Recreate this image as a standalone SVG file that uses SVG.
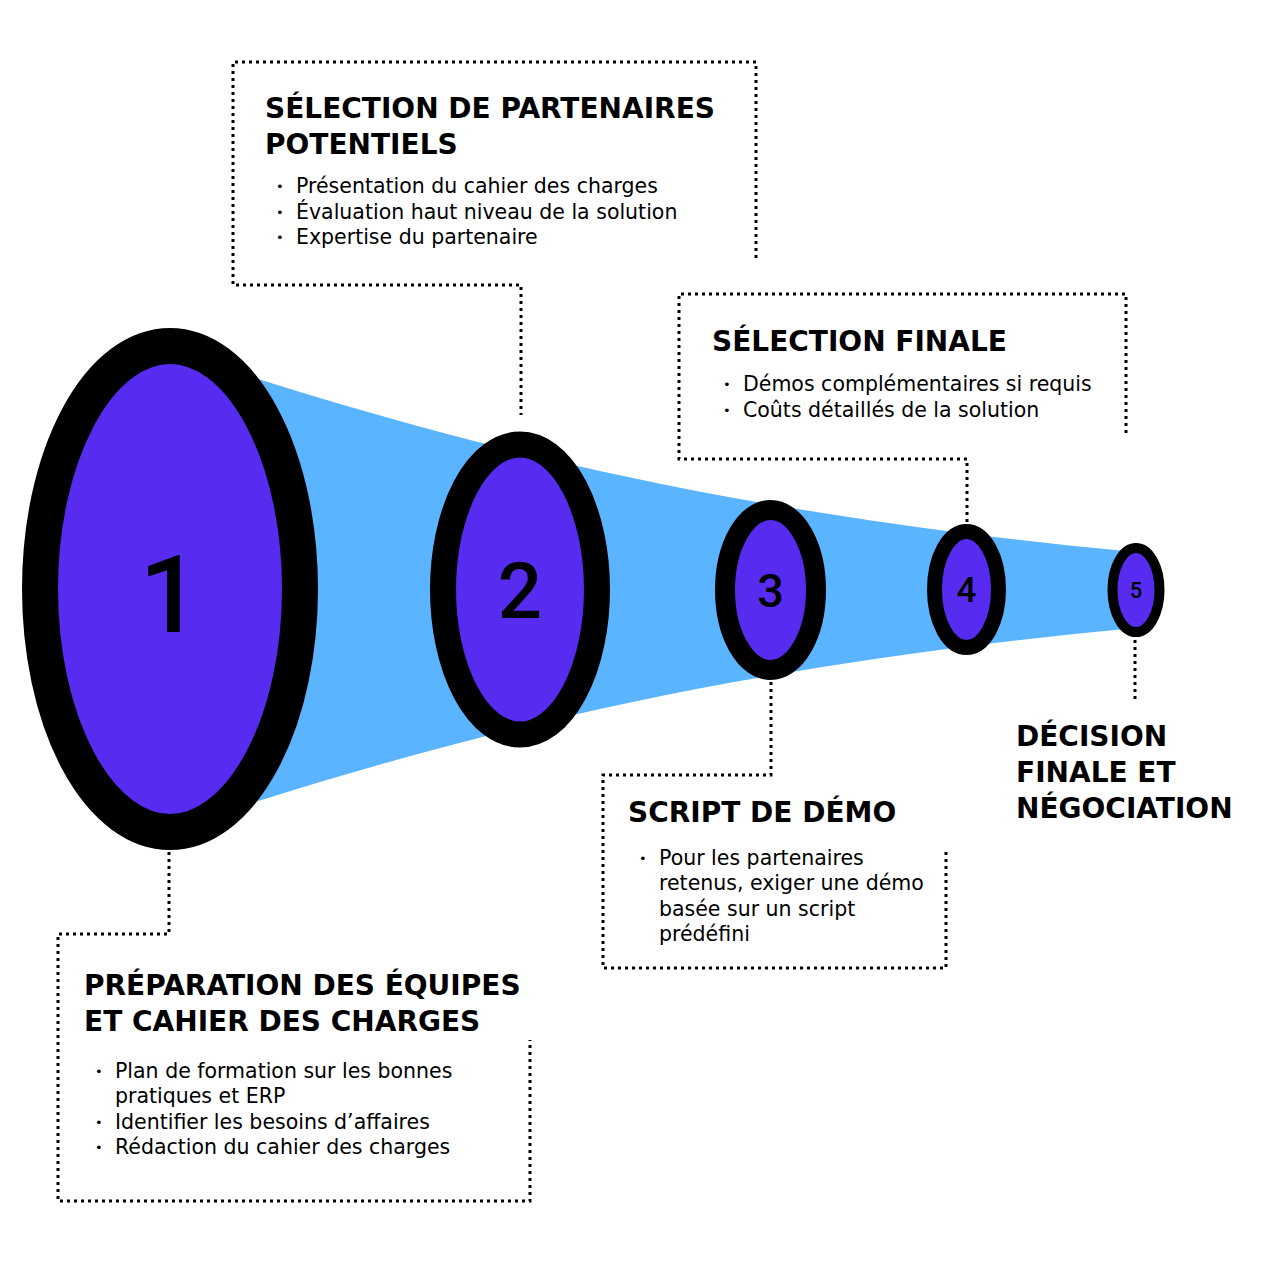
<svg xmlns="http://www.w3.org/2000/svg" width="1272" height="1283" viewBox="0 0 1272 1283">
<style>
.dot{fill:none;stroke:#000;stroke-width:3;stroke-dasharray:3 4}
.ring{fill:#572CF0;stroke:#000}
.num{font-family:Roboto,"Liberation Sans",sans-serif;font-weight:500;fill:#000;text-anchor:middle}
.h{font-family:"DejaVu Sans",sans-serif;font-weight:bold;font-size:28px;fill:#000}
.b{font-family:"DejaVu Sans",sans-serif;font-size:20.5px;fill:#000}
.bl{font-family:"DejaVu Sans",sans-serif;font-size:13px;fill:#000}
</style>
<rect width="1272" height="1283" fill="#fff"/>
<path id="funnel" d="M255,378 C500,455 750,515 1125,551 L1125,629 C750,665 500,725 255,802 Z" fill="#5BB4FF"/>
<g id="connectors">
<path class="dot" d="M756,258 V62 H233 V285 H521 V415"/>
<path class="dot" d="M1126,433 V294 H679 V459 H967 V522"/>
<path class="dot" d="M771,682 V775 H603 V968 H946 V848"/>
<path class="dot" d="M169,852 V934 H58 V1201 H530 V1040"/>
<path class="dot" d="M1135,640 V702"/>
</g>
<g id="step1"><ellipse class="ring" cx="170" cy="589" rx="130" ry="243" stroke-width="36"/><text class="num" x="170" y="632" font-size="108">1</text></g>
<g id="step2"><ellipse class="ring" cx="520" cy="589.5" rx="77" ry="145" stroke-width="26"/><text class="num" x="520" y="618" font-size="78">2</text></g>
<g id="step3"><ellipse class="ring" cx="770.5" cy="590" rx="45.5" ry="80" stroke-width="20"/><text class="num" x="770.5" y="607" font-size="47">3</text></g>
<g id="step4"><ellipse class="ring" cx="966.5" cy="589.5" rx="32" ry="58" stroke-width="15"/><text class="num" x="966.5" y="602" font-size="35">4</text></g>
<g id="step5"><ellipse class="ring" cx="1136" cy="590" rx="23.5" ry="42" stroke-width="10"/><text class="num" x="1136" y="598" font-size="22">5</text></g>
<g id="box-selection-partenaires">
<text class="h" x="265" y="118">SÉLECTION DE PARTENAIRES</text>
<text class="h" x="265" y="154">POTENTIELS</text>
<text class="bl" x="276" y="191">•</text><text class="b" x="296" y="193">Présentation du cahier des charges</text>
<text class="bl" x="276" y="217">•</text><text class="b" x="296" y="219">Évaluation haut niveau de la solution</text>
<text class="bl" x="276" y="242">•</text><text class="b" x="296" y="244">Expertise du partenaire</text>
</g>
<g id="box-selection-finale">
<text class="h" x="712" y="351">SÉLECTION FINALE</text>
<text class="bl" x="723" y="389">•</text><text class="b" x="743" y="391">Démos complémentaires si requis</text>
<text class="bl" x="723" y="415">•</text><text class="b" x="743" y="417">Coûts détaillés de la solution</text>
</g>
<g id="box-script-demo">
<text class="h" x="628" y="822">SCRIPT DE DÉMO</text>
<text class="bl" x="639" y="863">•</text><text class="b" x="659" y="865">Pour les partenaires</text>
<text class="b" x="659" y="890">retenus, exiger une démo</text>
<text class="b" x="659" y="916">basée sur un script</text>
<text class="b" x="659" y="941">prédéfini</text>
</g>
<g id="box-preparation">
<text class="h" x="84" y="995">PRÉPARATION DES ÉQUIPES</text>
<text class="h" x="84" y="1031">ET CAHIER DES CHARGES</text>
<text class="bl" x="95" y="1076">•</text><text class="b" x="115" y="1078">Plan de formation sur les bonnes</text>
<text class="b" x="115" y="1103">pratiques et ERP</text>
<text class="bl" x="95" y="1127">•</text><text class="b" x="115" y="1129">Identifier les besoins d’affaires</text>
<text class="bl" x="95" y="1152">•</text><text class="b" x="115" y="1154">Rédaction du cahier des charges</text>
</g>
<g id="label-decision">
<text class="h" x="1016" y="746">DÉCISION</text>
<text class="h" x="1016" y="782">FINALE ET</text>
<text class="h" x="1016" y="818">NÉGOCIATION</text>
</g>
</svg>
